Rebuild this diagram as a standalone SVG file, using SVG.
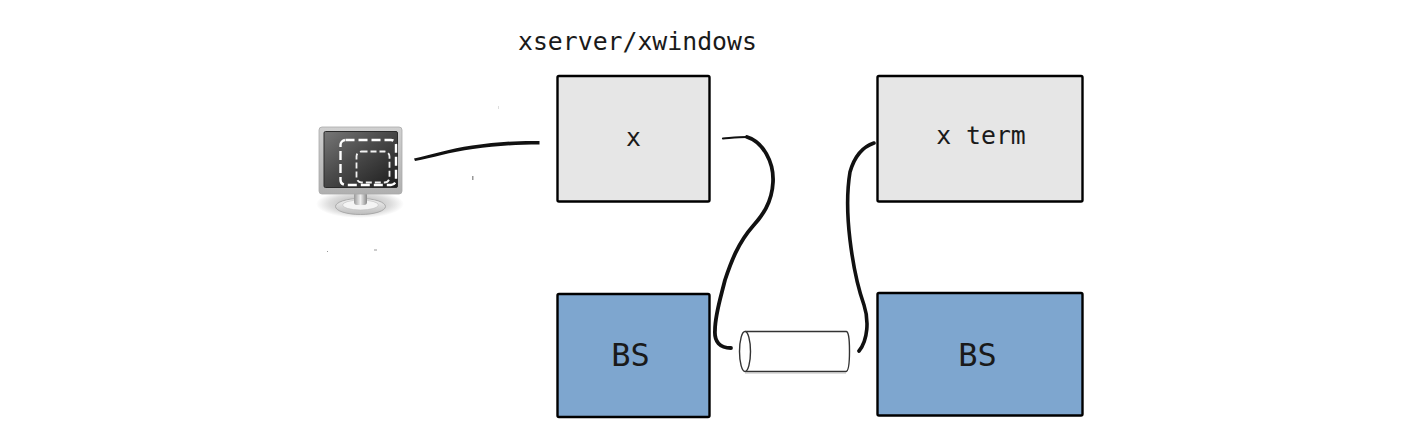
<svg xmlns="http://www.w3.org/2000/svg" width="1417" height="442" viewBox="0 0 1417 442">
<defs>
<style>
.box{stroke:#000;stroke-width:2.400;stroke-linejoin:round}
.grey{fill:#e6e6e6}
.blue{fill:#7ea6cf}
.t{font-family:"DejaVu Sans Mono",monospace;fill:#1a1a1a}
.wire{fill:none;stroke:#111;stroke-linecap:round;stroke-linejoin:round}
.speck{fill:#999}
</style>
<linearGradient id="frame" x1="0" y1="0" x2="0" y2="1"><stop offset="0" stop-color="#d0d0d0"/><stop offset=".6" stop-color="#bcbcbc"/><stop offset="1" stop-color="#b0b0b0"/></linearGradient>
<linearGradient id="screen" x1="0" y1="0" x2="1" y2="1"><stop offset="0" stop-color="#777"/><stop offset=".45" stop-color="#4a4a4a"/><stop offset="1" stop-color="#1c1c1c"/></linearGradient>
<linearGradient id="neck" x1="0" y1="0" x2="1" y2="0"><stop offset="0" stop-color="#999"/><stop offset=".5" stop-color="#eee"/><stop offset="1" stop-color="#888"/></linearGradient>
<linearGradient id="base" x1="0" y1="0" x2="0" y2="1"><stop offset="0" stop-color="#f2f2f2"/><stop offset="1" stop-color="#bdbdbd"/></linearGradient>
<radialGradient id="shadow"><stop offset="0" stop-color="#aaa"/><stop offset=".7" stop-color="#ddd"/><stop offset="1" stop-color="#fff"/></radialGradient>
</defs>
<rect width="1417" height="442" fill="#fff"/>
<g id="monitor">
<ellipse cx="360" cy="204" rx="44" ry="14" fill="url(#shadow)"/>
<ellipse cx="360.500" cy="206.500" rx="25" ry="8" fill="url(#base)" stroke="#a0a0a0" stroke-width=".8"/>
<ellipse cx="360.500" cy="205" rx="18" ry="5" fill="#f4f4f4" stroke="#bbb" stroke-width=".6"/>
<rect x="354" y="192" width="13" height="13" rx="3" fill="url(#neck)"/>
<rect x="319" y="127" width="83" height="67" rx="3" fill="url(#frame)" stroke="#aaa" stroke-width=".8"/>
<rect x="324" y="131.500" width="73.500" height="56" rx="1.500" fill="url(#screen)" stroke="#2a2a2a" stroke-width="1"/>
<rect x="340.500" y="140" width="55.500" height="45" rx="5" fill="none" stroke="#fff" stroke-width="2.400" stroke-dasharray="9 4"/>
<rect x="356.500" y="151.500" width="33" height="31" rx="5" fill="none" stroke="#f2f2f2" stroke-width="1.800" stroke-dasharray="6 3"/>
</g>
<g id="title"><text class="t" x="518" y="50" font-size="24.800">xserver/xwindows</text></g>
<g id="node-x">
<rect class="box grey" x="557.500" y="76" width="152" height="125.500" rx="1.500"/>
<text class="t" x="633.500" y="146" font-size="24.800" text-anchor="middle">x</text>
</g>
<g id="node-xterm">
<rect class="box grey" x="877.500" y="76" width="205" height="125.500" rx="1.500"/>
<text class="t" x="981" y="144" font-size="24.800" text-anchor="middle">x term</text>
</g>
<g id="node-bs-left">
<rect class="box blue" x="557.500" y="294" width="152" height="123" rx="1.500"/>
<text class="t" x="630.500" y="366" font-size="32" text-anchor="middle">BS</text>
</g>
<g id="node-bs-right">
<rect class="box blue" x="877.500" y="293" width="205" height="122.500" rx="1.500"/>
<text class="t" x="977.500" y="366" font-size="32" text-anchor="middle">BS</text>
</g>
<g id="tunnel" fill="none" stroke="#333" stroke-width="1.400">
<path d="M745 371.500H846Q849.500 371 849.500 351T846 331.500H745" fill="#fff"/>
<ellipse cx="745" cy="351.500" rx="5.500" ry="20" fill="#fff"/>
<path d="M745 373H846" stroke="#bbb" stroke-width="1"/>
</g>
<g id="connectors">
<path fill="#111" stroke="none" d="M414 158.500C432 154.500 450 148.500 472 145.500C495 142.500 515 140.500 539.500 141L539.500 144.500C515 144.500 495 146 473 149C450 152 432 158 415 161Z"/>
<path class="wire" stroke-width="2.200" d="M723 138.500C730 138 738 137 747 137"/>
<path class="wire" stroke-width="3.800" d="M747 137C763 142 774 162 773 182C772 203 762 216 753 226C738 243 731 262 725 280C720 300 715 315 715 330C714 342 720 348 731 348"/>
<path class="wire" stroke-width="3.600" d="M874 143C862 147 854 158 850 172C847 190 847 215 850 240C853 265 858 288 864 305C869 320 868 340 859 351"/>
</g>
<g id="specks">
<rect class="speck" x="472" y="176" width="1.500" height="4"/>
<rect class="speck" x="327" y="251" width="1" height="1"/>
<rect class="speck" x="374" y="249.500" width="3" height="1"/>
<rect x="498" y="106" width="1" height="3" fill="#ddd"/>
</g>
</svg>
